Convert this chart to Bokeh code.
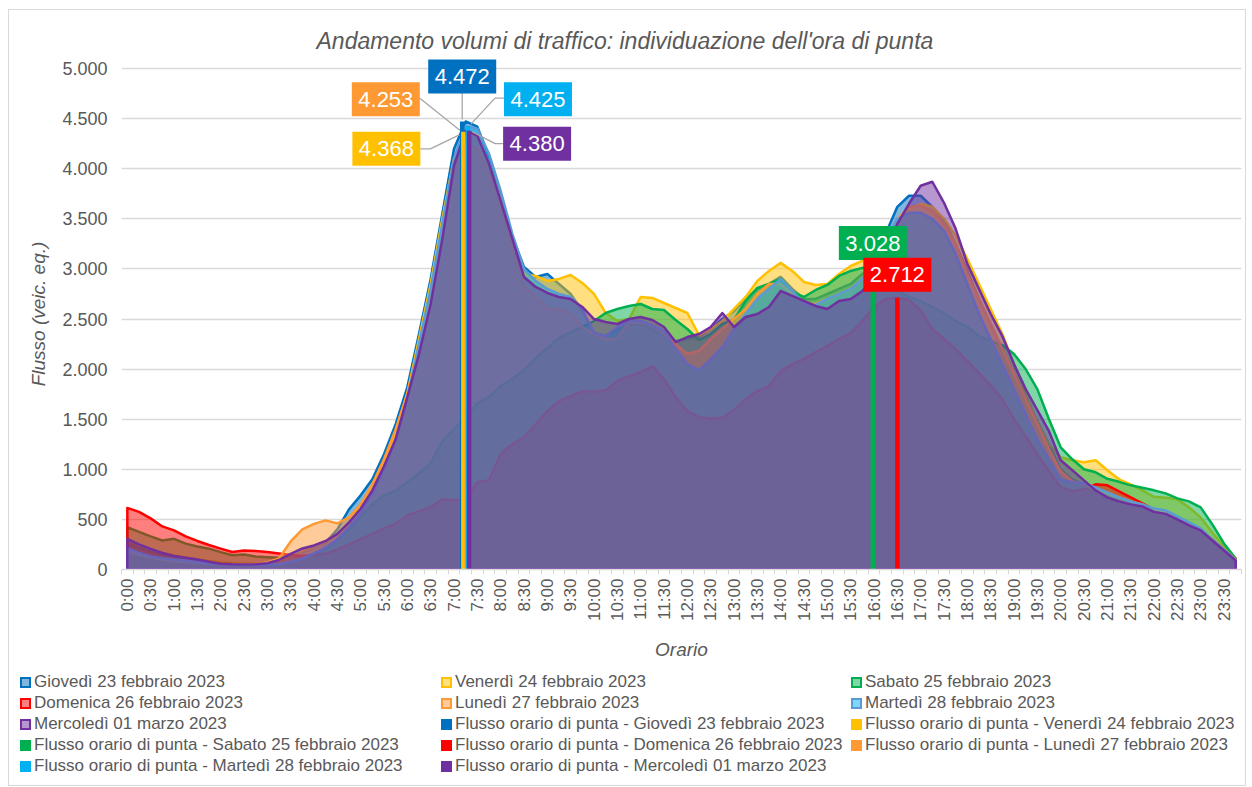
import math
from bokeh.plotting import figure
from bokeh.layouts import column
from bokeh.models import Range1d, FixedTicker, Div
from bokeh.embed import file_html
from bokeh.resources import INLINE
from bokeh.core.properties import value

# ---------------- data ----------------
times = [f"{h}:{m:02d}" for h in range(24) for m in (0, 15, 30, 45)]

giovedi = [260, 220, 180, 150, 125, 105, 90, 75,
           62, 55, 50, 50, 55, 75, 120, 170,
           220, 270, 400, 600, 740, 900, 1150, 1450,
           1820, 2350, 2900, 3550, 4200, 4472, 4420, 4120,
           3720, 3320, 3020, 2920, 2950, 2850, 2750, 2580,
           2360, 2330, 2400, 2440, 2450, 2400, 2330, 2280,
           2300, 2320, 2400, 2500, 2580, 2700, 2800, 2850,
           2920, 2800, 2700, 2700, 2750, 2800, 2850, 2950,
           3000, 3350, 3620, 3730, 3730, 3620, 3480, 3250,
           2980, 2700, 2450, 2200, 1950, 1700, 1480, 1250,
           1000, 900, 850, 780, 740, 700, 660, 620,
           580, 560, 520, 460, 400, 300, 200, 100]

venerdi = [280, 240, 200, 165, 140, 120, 100, 85,
           70, 62, 58, 58, 65, 85, 130, 180,
           230, 280, 350, 470, 630, 820, 1080, 1380,
           1760, 2300, 2850, 3500, 4100, 4368, 4330, 4050,
           3700, 3300, 2950, 2930, 2880, 2900, 2940, 2860,
           2750, 2560, 2480, 2500, 2720, 2710, 2660, 2610,
           2560, 2340, 2400, 2480, 2600, 2720, 2880, 2980,
           3060, 2980, 2870, 2840, 2850, 2950, 3030, 3080,
           3100, 3250, 3450, 3600, 3650, 3620, 3500, 3330,
           3100, 2850, 2600, 2350, 2050, 1750, 1480, 1250,
           1120, 1090, 1070, 1090, 990, 900, 850, 790,
           725, 715, 700, 620, 520, 370, 230, 110]

sabato = [422, 375, 330, 290, 306, 258, 230, 208,
          173, 142, 150, 130, 123, 117, 125, 135,
          150, 200, 300, 400, 530, 650, 740, 785,
          870, 960, 1060, 1280, 1400, 1520, 1660, 1720,
          1830, 1900, 1990, 2110, 2210, 2310, 2370, 2420,
          2480, 2560, 2600, 2630, 2650, 2600, 2590, 2490,
          2400, 2290, 2350, 2450, 2490, 2680, 2810, 2850,
          2900, 2770, 2720, 2790, 2840, 2930, 2980, 3010,
          3028, 2860, 2780, 2720, 2680, 2620, 2560, 2480,
          2420, 2330, 2280, 2240, 2150, 2000, 1800, 1500,
          1220, 1100, 1000, 970, 905, 875, 840, 815,
          790, 760, 710, 680, 620, 450, 260, 110]

domenica = [615, 575, 510, 430, 390, 330, 285, 245,
            208, 175, 190, 185, 175, 160, 145, 135,
            145, 156, 200, 250, 300, 356, 410, 456,
            540, 580, 622, 700, 690, 700, 870, 890,
            1150, 1250, 1320, 1450, 1580, 1680, 1730, 1780,
            1775, 1790, 1880, 1930, 1970, 2030, 1900, 1720,
            1580, 1520, 1505, 1515, 1590, 1700, 1780, 1830,
            1980, 2050, 2100, 2170, 2230, 2300, 2360, 2480,
            2620, 2700, 2712, 2690, 2590, 2400, 2300, 2200,
            2080, 1960, 1840, 1700, 1500, 1330, 1150, 980,
            822, 780, 800, 850, 840, 780, 720, 660,
            600, 560, 510, 460, 400, 300, 200, 100]

lunedi = [180, 150, 120, 100, 85, 75, 65, 58,
          50, 48, 48, 55, 70, 110, 280, 400,
          455, 490, 460, 520, 650, 850, 1100, 1400,
          1750, 2250, 2750, 3400, 4000, 4253, 4200, 3950,
          3600, 3200, 2820, 2720, 2600, 2600, 2550, 2420,
          2350, 2300, 2300, 2470, 2460, 2450, 2350, 2250,
          2150, 2180, 2300, 2400, 2500, 2600, 2750, 2850,
          2850, 2750, 2650, 2650, 2700, 2750, 2800, 2900,
          3050, 3300, 3500, 3620, 3630, 3580, 3450, 3250,
          2950, 2700, 2450, 2200, 1950, 1700, 1450, 1200,
          980, 880, 840, 800, 760, 720, 680, 650,
          600, 570, 520, 460, 400, 300, 200, 100]

martedi = [210, 165, 130, 112, 100, 90, 75, 62,
           52, 48, 45, 45, 48, 55, 75, 110,
           160, 220, 300, 420, 560, 760, 1000, 1300,
           1700, 2250, 2800, 3450, 4100, 4425, 4400, 4150,
           3780, 3350, 3000, 2880, 2800, 2750, 2720, 2600,
           2360, 2330, 2420, 2480, 2480, 2440, 2380, 2200,
           2050, 1990, 2100, 2220, 2400, 2550, 2700, 2800,
           2900, 2780, 2650, 2640, 2700, 2750, 2800, 2900,
           3050, 3300, 3500, 3560, 3560, 3500, 3380, 3150,
           2850, 2550, 2300, 2050, 1800, 1550, 1300, 1100,
           900, 870, 860, 820, 770, 720, 680, 650,
           610, 590, 530, 470, 410, 300, 200, 95]

mercoledi = [306, 250, 205, 165, 135, 118, 100, 78,
             57, 52, 50, 52, 62, 95, 155, 210,
             240, 285, 356, 470, 606, 790, 1030, 1300,
             1720, 2150, 2650, 3300, 4030, 4380, 4330, 4050,
             3680, 3300, 2920, 2820, 2760, 2720, 2700, 2620,
             2500, 2470, 2450, 2500, 2520, 2490, 2420, 2270,
             2320, 2350, 2420, 2560, 2420, 2520, 2550, 2620,
             2780, 2730, 2680, 2630, 2600, 2680, 2700, 2780,
             2900, 3150, 3450, 3650, 3830, 3870, 3660, 3400,
             3050, 2800, 2550, 2330, 2050, 1800, 1590, 1380,
             1090, 990, 890, 790, 720, 680, 650, 630,
             575, 555, 500, 440, 390, 290, 190, 90]

day_names = ["Giovedì 23 febbraio 2023", "Venerdì 24 febbraio 2023",
             "Sabato 25 febbraio 2023", "Domenica 26 febbraio 2023",
             "Lunedì 27 febbraio 2023", "Martedì 28 febbraio 2023",
             "Mercoledì 01 marzo 2023"]
day_series = [giovedi, venerdi, sabato, domenica, lunedi, martedi, mercoledi]

peak_time = ["7:15", "7:15", "16:00", "16:30", "7:15", "7:15", "7:15"]
peak_value = [4472, 4368, 3028, 2712, 4253, 4425, 4380]

y_ticks = [0, 500, 1000, 1500, 2000, 2500, 3000, 3500, 4000, 4500, 5000]

# ---------------- styles ----------------
FONT = "Liberation Sans"
GREY = "#595959"
line_colors = ["#0070C0", "#FFC000", "#00B050", "#FF0000", "#FF9933", "#5B9BD5", "#7030A0"]
fill_colors = ["#0070C0", "#FFC000", "#00B050", "#FF0000", "#FF9933", "#00B0F0", "#7030A0"]
peak_colors = ["#0070C0", "#FFC000", "#00B050", "#FF0000", "#FF9933", "#00B0F0", "#7030A0"]

W, H = 1244, 668
BL, BR, BT = 121, 3, 58
FW = W - BL - BR
X0, X1 = -0.5, 95.5
Y0, Y1 = 0, 5100
FH = 511
BB = H - BT - FH
PXX = FW / (X1 - X0)
PXY = FH / (Y1 - Y0)

p = figure(width=W, height=H, x_range=Range1d(X0, X1), y_range=Range1d(Y0, Y1),
           output_backend="svg", toolbar_location=None,
           min_border_left=BL, min_border_right=BR, min_border_top=BT, min_border_bottom=BB,
           title="Andamento volumi di traffico: individuazione dell'ora di punta")
p.outline_line_color = None
p.background_fill_color = "white"
p.border_fill_color = "white"

p.title.align = "left"
p.title.offset = 195
p.title.standoff = 9
p.title.text_font = FONT
p.title.text_font_size = "23px"
p.title.text_font_style = "italic"
p.title.text_color = GREY

# y axis
p.yaxis.ticker = FixedTicker(ticks=y_ticks)
p.yaxis.major_label_overrides = {t: f"{t:,}".replace(",", ".") for t in y_ticks}
p.yaxis.axis_line_color = None
p.yaxis.major_tick_line_color = None
p.yaxis.minor_tick_line_color = None
p.yaxis.major_tick_out = 0
p.yaxis.major_label_standoff = 14
p.yaxis.major_label_text_font = FONT
p.yaxis.major_label_text_font_size = "18px"
p.yaxis.major_label_text_color = GREY
p.yaxis.axis_label = "Flusso (veic. eq.)"
p.yaxis.axis_label_text_font = FONT
p.yaxis.axis_label_text_font_size = "19px"
p.yaxis.axis_label_text_font_style = "italic"
p.yaxis.axis_label_text_color = GREY
p.yaxis.axis_label_standoff = 10

p.ygrid.ticker = FixedTicker(ticks=y_ticks)
p.ygrid.grid_line_color = "#D9D9D9"
p.ygrid.grid_line_width = 1.5
p.xgrid.grid_line_color = None

# x axis
label_idx = list(range(0, len(times), 2))
p.xaxis.ticker = FixedTicker(ticks=label_idx, minor_ticks=[i - 0.5 for i in range(len(times) + 1)])
p.xaxis.major_label_overrides = {i: times[i] for i in label_idx}
p.xaxis.major_label_orientation = math.pi / 2
p.xaxis.axis_line_color = "#D9D9D9"
p.xaxis.axis_line_width = 1.5
p.xaxis.major_tick_line_color = None
p.xaxis.major_tick_out = 0
p.xaxis.major_tick_in = 0
p.xaxis.minor_tick_line_color = "#D9D9D9"
p.xaxis.minor_tick_out = 5
p.xaxis.minor_tick_in = 0
p.xaxis.major_label_standoff = 4
p.xaxis.major_label_text_font = FONT
p.xaxis.major_label_text_font_size = "17px"
p.xaxis.major_label_text_color = GREY
p.xaxis.axis_label = "Orario"
p.xaxis.axis_label_text_font = FONT
p.xaxis.axis_label_text_font_size = "19px"
p.xaxis.axis_label_text_font_style = "italic"
p.xaxis.axis_label_text_color = GREY
p.xaxis.axis_label_standoff = 15

# areas
cats = list(range(len(times)))
for vals, lc, fc in zip(day_series, line_colors, fill_colors):
    xs = [cats[0]] + cats + [cats[-1]]
    ys = [0] + list(vals) + [0]
    p.patch(xs, ys, fill_color=fc, fill_alpha=0.5, line_color=lc, line_width=2.5,
            line_join="round")

# peak bars
idx = {t: i for i, t in enumerate(times)}
BAR_W = 4.5 / PXX
BAR_SHIFT = 1.15 / PXX
bar_x = []
for i, (t, v, c) in enumerate(zip(peak_time, peak_value, peak_colors)):
    bx = idx[t] + (i - 3) * BAR_SHIFT
    bar_x.append(bx)
    p.vbar(x=[bx], top=[v], width=BAR_W, fill_color=c, line_color=None)

# data labels (pixel offsets of the box centre from the bar top; +dy = down)
label_offsets = [(0, -45), (-77, 17), (0, -23), (0, -23), (-81, -44), (70, -27), (68, 13)]
leaders = [
    [(0, -29), (0, -2)],
    [(-43, 17), (-33, 17), (-4, 3)],
    None,
    None,
    [(-47, -45), (-7, -13)],
    [(36, -28), (27, -28), (3, -2)],
    [(34, 13), (26, 13), (3, 1)],
]


def to_data(bx, v, dx, dy):
    return bx + dx / PXX, v - dy / PXY


for i in range(len(peak_value)):
    if leaders[i]:
        pts = [to_data(bar_x[i], peak_value[i], dx, dy) for dx, dy in leaders[i]]
        p.line([q[0] for q in pts], [q[1] for q in pts], line_color="#A6A6A6", line_width=1.3)

box_x, box_y, box_txt = [], [], []
for i, v in enumerate(peak_value):
    dx, dy = label_offsets[i]
    cx, cy = to_data(bar_x[i], v, dx, dy)
    box_x.append(cx)
    box_y.append(cy)
    box_txt.append(f"{v:,}".replace(",", "."))

p.rect(x=box_x, y=box_y, width=68, height=34, width_units="screen", height_units="screen",
       fill_color=peak_colors, line_color=None)
p.text(x=box_x, y=box_y, text=box_txt, text_align="center", text_baseline="middle",
       text_color="white", text_font=value(FONT), text_font_size=value("22px"))

# ---------------- legend (HTML strip below the chart) ----------------


def rgba(hex_color, a):
    h = hex_color.lstrip("#")
    return f"rgba({int(h[0:2], 16)},{int(h[2:4], 16)},{int(h[4:6], 16)},{a})"


legend_entries = []
for n, lc, fc in zip(day_names, line_colors, fill_colors):
    sq = (f"border:2px solid {lc};background:linear-gradient({rgba(fc, 0.5)},{rgba(fc, 0.5)}),#fff;")
    legend_entries.append((n, sq))
for n, c in zip(day_names, peak_colors):
    legend_entries.append(("Flusso orario di punta - " + n, f"background:{c};"))

LH = 119
ROW_H = 21
col_x = [20, 441, 851]
first_row_top = 4
parts = []
for k, (label, sq) in enumerate(legend_entries):
    r, c = divmod(k, 3)
    parts.append(
        f'<div style="position:absolute;left:{col_x[c]}px;top:{first_row_top + r * ROW_H}px;'
        f'height:{ROW_H}px;display:flex;align-items:center;white-space:nowrap;">'
        f'<span style="display:inline-block;box-sizing:border-box;width:11px;height:11px;'
        f'margin-right:3px;{sq}"></span>'
        f'<span style="font-family:\'{FONT}\';font-size:17px;color:{GREY};">{label}</span></div>'
    )
# thin outer frame of the whole chart (drawn from the legend strip upwards)
frame_top = 9 - H
parts.append(
    f'<div style="position:absolute;left:8px;top:{frame_top}px;width:1238px;height:777px;'
    f'box-sizing:border-box;border:1px solid #D9D9D9;pointer-events:none;"></div>'
)
legend_html = (f'<div style="position:relative;width:{W}px;height:{LH}px;">'
               + "".join(parts) + "</div>")
legend_div = Div(text=legend_html, width=W, height=LH, margin=0)

layout = column(p, legend_div, spacing=0)
open("out.html", "w").write(file_html(layout, INLINE))
